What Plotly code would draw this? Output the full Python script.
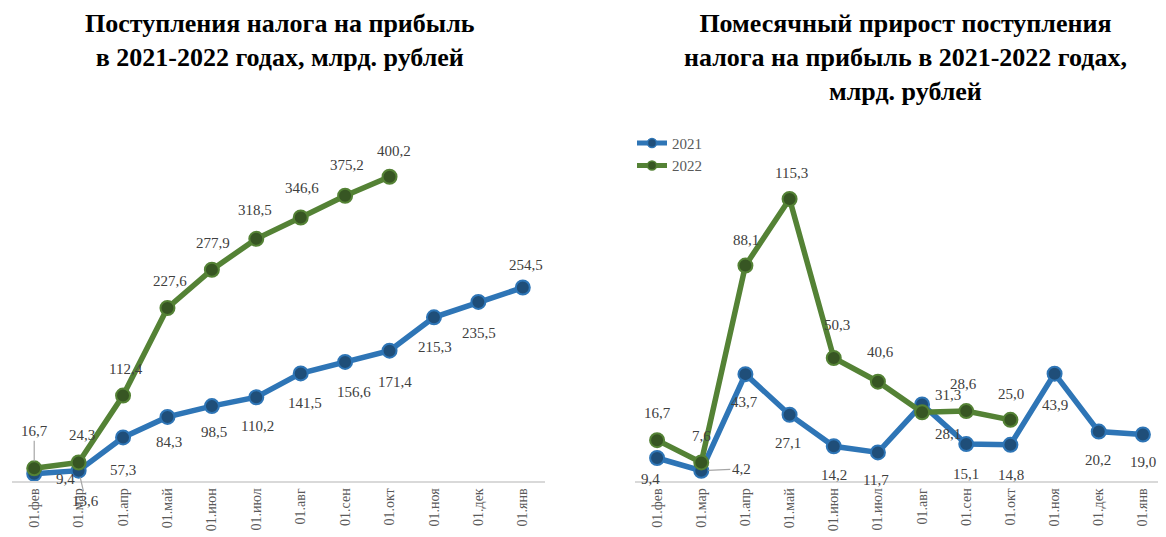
import plotly.graph_objects as go

months = ["01.фев", "01.мар", "01.апр", "01.май", "01.июн", "01.июл",
          "01.авг", "01.сен", "01.окт", "01.ноя", "01.дек", "01.янв"]

cum_2021 = [9.4, 13.6, 57.3, 84.3, 98.5, 110.2, 141.5, 156.6, 171.4, 215.3, 235.5, 254.5]
cum_2022 = [16.7, 24.3, 112.4, 227.6, 277.9, 318.5, 346.6, 375.2, 400.2]

mon_2021 = [9.4, 4.2, 43.7, 27.1, 14.2, 11.7, 31.3, 15.1, 14.8, 43.9, 20.2, 19.0]
mon_2022 = [16.7, 7.6, 88.1, 115.3, 50.3, 40.6, 28.1, 28.6, 25.0]

series_names = ["2021", "2022"]

# label offsets (px) relative to points, and leader-line flags
off_cum_2021 = [(31, 5), (7, 30), (0, 33), (2, 25), (2, 26), (1, 29), (4, 30), (9, 30), (5, 31), (1, 30), (1, 31), (3, -23)]
off_cum_2022 = [(0, -37), (3, -28), (3, -27), (3, -27), (1, -27), (-1, -29), (1, -30), (2, -31), (4, -26)]
off_mon_2021 = [(-7, 21), (40, -2), (-1, 28), (-2, 28), (0, 29), (-2, 28), (26, -9), (0, 30), (1, 30), (0, 31), (-1, 28), (0, 27)]
off_mon_2022 = [(0, -27), (0, -26), (1, -26), (2, -26), (3, -33), (3, -30), (26, 22), (-3, -27), (1, -26)]
lead_cum_2021 = [1]
lead_cum_2022 = [0]
lead_mon_2021 = [1]
lead_mon_2022 = []

BLUE = "#2E75B6"
BLUE_M = "#1F4E79"
GREEN = "#548235"
GREEN_M = "#375623"
FONT = "Liberation Serif, Times New Roman, serif"
LBL = "#404040"

# the page body adds an 8px offset; layout coordinates below compensate for it
OFF = 8
W, H = 1166, 537

fig = go.Figure()

def add_series(x, y, color, mcolor, xa, ya, name):
    fig.add_trace(go.Scatter(
        x=x, y=y, mode="lines+markers", name=name, showlegend=False,
        line=dict(color=color, width=5.5),
        marker=dict(size=14, color=mcolor, line=dict(color=color, width=2)),
        xaxis=xa, yaxis=ya, hoverinfo="skip"))

add_series(months[:len(cum_2021)], cum_2021, BLUE, BLUE_M, "x", "y", series_names[0])
add_series(months[:len(cum_2022)], cum_2022, GREEN, GREEN_M, "x", "y", series_names[1])
add_series(months[:len(mon_2021)], mon_2021, BLUE, BLUE_M, "x2", "y2", series_names[0])
add_series(months[:len(mon_2022)], mon_2022, GREEN, GREEN_M, "x2", "y2", series_names[1])

# legend entries (no data, smaller symbol like the original legend)
for name, color, mcolor in [(series_names[0], BLUE, BLUE_M), (series_names[1], GREEN, GREEN_M)]:
    fig.add_trace(go.Scatter(
        x=[None], y=[None], mode="lines+markers", name=name, showlegend=True,
        line=dict(color=color, width=5),
        marker=dict(size=9, color=mcolor, line=dict(color=color, width=1.5)),
        xaxis="x2", yaxis="y2", hoverinfo="skip"))

def add_labels(vals, offs, leads, xr, yr):
    for i, v in enumerate(vals):
        dx, dy = offs[i]
        lead = i in leads
        fig.add_annotation(
            x=months[i], y=v, xref=xr, yref=yr,
            text=f"{v:.1f}".replace(".", ","),
            showarrow=True, ax=dx, ay=dy, axref="pixel", ayref="pixel",
            arrowhead=0, arrowwidth=1.2,
            arrowcolor="#A6A6A6" if lead else "rgba(0,0,0,0)",
            standoff=7 if lead else 0,
            font=dict(family=FONT, size=15, color=LBL))

add_labels(cum_2021, off_cum_2021, lead_cum_2021, "x", "y")
add_labels(cum_2022, off_cum_2022, lead_cum_2022, "x", "y")
add_labels(mon_2021, off_mon_2021, lead_mon_2021, "x2", "y2")
add_labels(mon_2022, off_mon_2022, lead_mon_2022, "x2", "y2")

# titles
TOP = 1 + (110 - OFF) / 371
fig.add_annotation(text="<b>Поступления налога на прибыль<br>в 2021-2022 годах, млрд. рублей</b>",
                   xref="paper", yref="paper", x=(280 - OFF) / W, y=TOP, xanchor="center", yanchor="top",
                   showarrow=False, align="center", borderpad=0,
                   font=dict(family=FONT, size=26, color="#000000"))
fig.add_annotation(text="<b>Помесячный прирост поступления<br>налога на прибыль в 2021-2022 годах,<br>млрд. рублей</b>",
                   xref="paper", yref="paper", x=(905 - OFF) / W, y=TOP, xanchor="center", yanchor="top",
                   showarrow=False, align="center", borderpad=0,
                   font=dict(family=FONT, size=26, color="#000000"))

xcommon = dict(type="category", categoryorder="array", categoryarray=months,
               range=[-0.5, 11.5], showgrid=False, zeroline=False,
               showline=True, linecolor="#D9D9D9", linewidth=1.5,
               ticks="", tickangle=-90,
               tickfont=dict(family=FONT, size=14, color="#595959"))
ycommon = dict(showgrid=False, zeroline=False, showline=False, showticklabels=False, ticks="")

fig.update_layout(
    width=W, height=H,
    font=dict(family=FONT),
    margin=dict(l=0, r=0, t=110 - OFF, b=56 + OFF),
    paper_bgcolor="white", plot_bgcolor="white",
    xaxis=dict(domain=[(12 - OFF) / W, (545 - OFF) / W], anchor="y", **xcommon),
    yaxis=dict(domain=[0, 1], range=[0, 488], anchor="x", **ycommon),
    xaxis2=dict(domain=[(635 - OFF) / W, (1165 - OFF) / W], anchor="y2", **xcommon),
    yaxis2=dict(domain=[0, 1], range=[0, 151.7], anchor="x2", **ycommon),
    legend=dict(x=(632 - OFF) / W, y=0.955, xanchor="left", yanchor="top",
                font=dict(family=FONT, size=15, color="#595959"),
                bgcolor="rgba(0,0,0,0)", tracegroupgap=0),
    showlegend=True,
)

fig.write_html("out.html")
